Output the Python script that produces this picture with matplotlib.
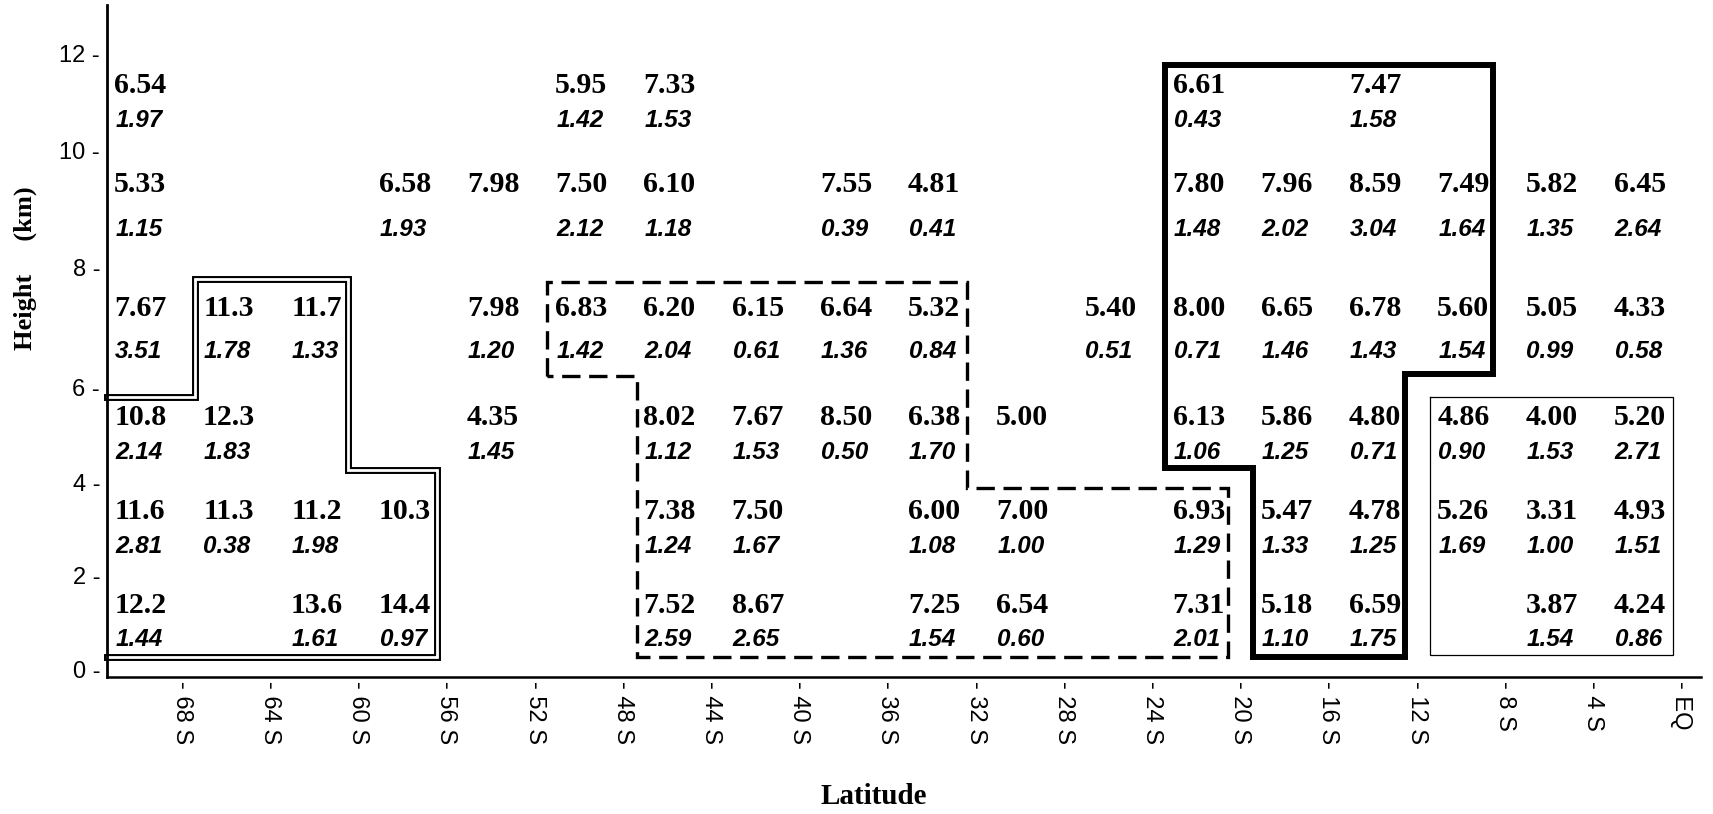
import numpy as np
import matplotlib
matplotlib.use('Agg')
import matplotlib.pyplot as plt

nan = np.nan

# latitude bands (4 deg wide), centres from 70S to 2S
lat_centres = [-70, -66, -62, -58, -54, -50, -46, -42, -38, -34, -30, -26, -22, -18, -14, -10, -6, -2]
band_bottoms = [10, 8, 6, 4, 2, 0]  # height bands (km), 2 km thick

# mean values (bold) per height band, one entry per latitude band
mean_10_12 = [6.54, nan, nan, nan, nan, 5.95, 7.33, nan, nan, nan, nan, nan, 6.61, nan, 7.47, nan, nan, nan]
mean_8_10 = [5.33, nan, nan, 6.58, 7.98, 7.50, 6.10, nan, 7.55, 4.81, nan, nan, 7.80, 7.96, 8.59, 7.49, 5.82, 6.45]
mean_6_8 = [7.67, 11.3, 11.7, nan, 7.98, 6.83, 6.20, 6.15, 6.64, 5.32, nan, 5.40, 8.00, 6.65, 6.78, 5.60, 5.05, 4.33]
mean_4_6 = [10.8, 12.3, nan, nan, 4.35, nan, 8.02, 7.67, 8.50, 6.38, 5.00, nan, 6.13, 5.86, 4.80, 4.86, 4.00, 5.20]
mean_2_4 = [11.6, 11.3, 11.2, 10.3, nan, nan, 7.38, 7.50, nan, 6.00, 7.00, nan, 6.93, 5.47, 4.78, 5.26, 3.31, 4.93]
mean_0_2 = [12.2, nan, 13.6, 14.4, nan, nan, 7.52, 8.67, nan, 7.25, 6.54, nan, 7.31, 5.18, 6.59, nan, 3.87, 4.24]

# standard deviations (bold italic)
sd_10_12 = [1.97, nan, nan, nan, nan, 1.42, 1.53, nan, nan, nan, nan, nan, 0.43, nan, 1.58, nan, nan, nan]
sd_8_10 = [1.15, nan, nan, 1.93, nan, 2.12, 1.18, nan, 0.39, 0.41, nan, nan, 1.48, 2.02, 3.04, 1.64, 1.35, 2.64]
sd_6_8 = [3.51, 1.78, 1.33, nan, 1.20, 1.42, 2.04, 0.61, 1.36, 0.84, nan, 0.51, 0.71, 1.46, 1.43, 1.54, 0.99, 0.58]
sd_4_6 = [2.14, 1.83, nan, nan, 1.45, nan, 1.12, 1.53, 0.50, 1.70, nan, nan, 1.06, 1.25, 0.71, 0.90, 1.53, 2.71]
sd_2_4 = [2.81, 0.38, 1.98, nan, nan, nan, 1.24, 1.67, nan, 1.08, 1.00, nan, 1.29, 1.33, 1.25, 1.69, 1.00, 1.51]
sd_0_2 = [1.44, nan, 1.61, 0.97, nan, nan, 2.59, 2.65, nan, 1.54, 0.60, nan, 2.01, 1.10, 1.75, nan, 1.54, 0.86]

means = [mean_10_12, mean_8_10, mean_6_8, mean_4_6, mean_2_4, mean_0_2]
sds = [sd_10_12, sd_8_10, sd_6_8, sd_4_6, sd_2_4, sd_0_2]

# outlined regions (latitude, km)
double_lat = [-71.39, -67.4, -67.4, -60.46, -60.46, -56.43, -56.43, -71.39]
double_km = [5.81, 5.81, 7.82, 7.82, 4.27, 4.27, 0.28, 0.28]
dashed_lat = [-51.45, -51.45, -32.4, -32.4, -20.53, -20.53, -47.37, -47.37, -51.45]
dashed_km = [6.2, 7.77, 7.77, 3.89, 3.89, 0.28, 0.28, 6.2, 6.2]
thick_lat = [-23.41, -8.55, -8.55, -12.53, -12.53, -19.41, -19.41, -23.41, -23.41]
thick_km = [11.75, 11.75, 6.23, 6.23, 0.28, 0.28, 4.32, 4.32, 11.75]
thin_lat = [-11.39, -0.37, -0.37, -11.39, -11.39]
thin_km = [5.82, 5.82, 0.32, 0.32, 5.82]

x_ticks = [-68, -64, -60, -56, -52, -48, -44, -40, -36, -32, -28, -24, -20, -16, -12, -8, -4, 0]
x_labels = ['- %d S' % -t for t in x_ticks[:-1]] + ['- EQ']
y_ticks = [0, 2, 4, 6, 8, 10, 12]

# the printed height axis is not evenly spaced: pixel height of each km tick
y_tick_px = [0, 94, 187, 282, 402, 520, 617]

# where the two numbers sit inside each 2 km band
mean_off = [1.32, 1.42, 1.33, 1.37, 1.38, 1.38]
sd_off = [0.6, 0.66, 0.6, 0.64, 0.64, 0.64]


def fwd(y):
    y = np.asarray(y, dtype=float)
    out = np.interp(y, y_ticks, y_tick_px)
    out = np.where(y < 0, y * 47.0, out)
    out = np.where(y > 12, 617 + (y - 12) * 48.5, out)
    return out


def inv(p):
    p = np.asarray(p, dtype=float)
    out = np.interp(p, y_tick_px, y_ticks)
    out = np.where(p < 0, p / 47.0, out)
    out = np.where(p > 617, 12 + (p - 617) / 48.5, out)
    return out


fig = plt.figure(figsize=(17.13, 8.14), dpi=100)
ax = fig.add_axes([107 / 1713, 137 / 814, 1594 / 1713, 672 / 814])
ax.set_yscale('function', functions=(fwd, inv))
ax.set_xlim(-71.39, 0.9)
ax.set_ylim(-0.15, 12.99)

for s in ['top', 'right']:
    ax.spines[s].set_visible(False)
ax.spines['left'].set_linewidth(2.0)
ax.spines['bottom'].set_linewidth(1.8)

ax.set_xticks(x_ticks)
ax.set_xticklabels(x_labels, rotation=270, family='Liberation Sans', fontsize=17)
ax.set_yticks(y_ticks)
ax.set_yticklabels(['%d -' % t for t in y_ticks], family='Liberation Sans', fontsize=17)
ax.tick_params(axis='both', length=0)
ax.tick_params(axis='y', pad=5)
ax.tick_params(axis='x', pad=3)
ax.minorticks_off()

# cell values
for bottom, mrow, srow, mo, so in zip(band_bottoms, means, sds, mean_off, sd_off):
    for lat, m, s in zip(lat_centres, mrow, srow):
        if not np.isnan(m):
            txt = '%.1f' % m if m >= 10 else '%.2f' % m
            ax.text(lat + 0.12, bottom + mo, txt, ha='center', va='center',
                    family='Liberation Serif', fontweight='bold', fontsize=21.5)
        if not np.isnan(s):
            ax.text(lat + 0.05, bottom + so, '%.2f' % s, ha='center', va='center',
                    family='Liberation Sans', fontweight='bold', style='italic', fontsize=17.5)

# double-line region
ax.plot(double_lat, double_km, color='black', lw=5.0, solid_joinstyle='miter', clip_on=False)
ax.plot(double_lat, double_km, color='white', lw=2.0, solid_joinstyle='miter', clip_on=False)
# dashed region
ax.plot(dashed_lat, dashed_km, color='black', lw=2.4, linestyle=(0, (5.5, 2.6)),
        dash_joinstyle='miter', dash_capstyle='butt')
# thick region
ax.plot(thick_lat, thick_km, color='black', lw=4.3, solid_joinstyle='miter')
# thin region
ax.plot(thin_lat, thin_km, color='black', lw=0.9, solid_joinstyle='miter')

fig.text(874 / 1713, 1 - 796 / 814, 'Latitude', ha='center', va='center',
         family='Liberation Serif', fontweight='bold', fontsize=21)
fig.text(25 / 1713, 1 - 268 / 814, 'Height     (km)', ha='center', va='center', rotation=90,
         family='Liberation Serif', fontweight='bold', fontsize=19)

fig.savefig('out.png', dpi=100)
